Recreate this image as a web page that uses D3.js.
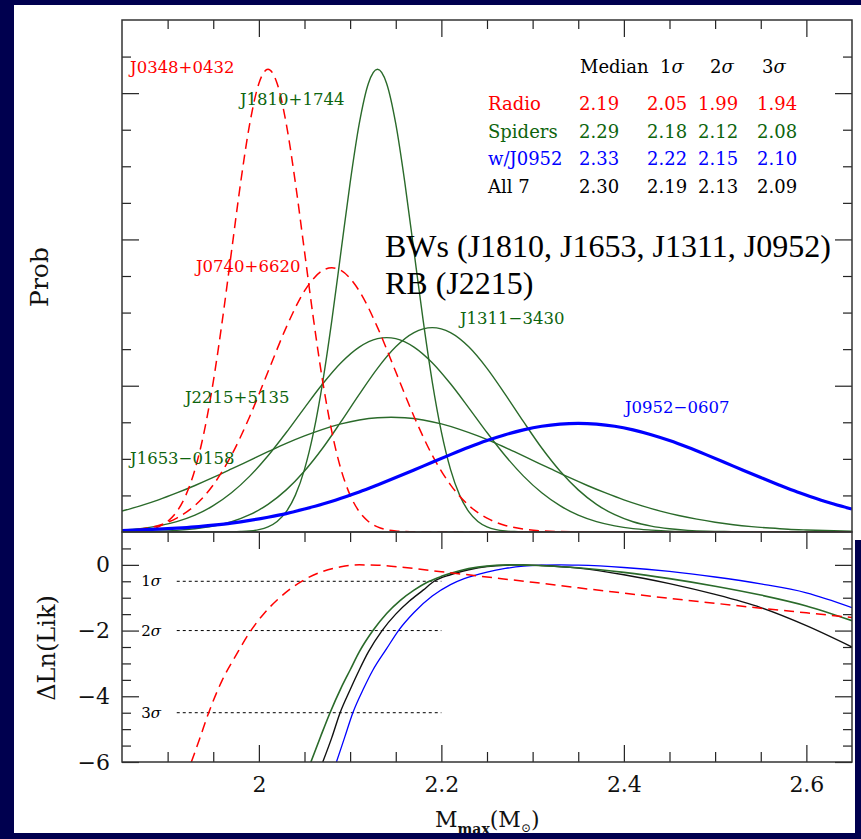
<!DOCTYPE html>
<html>
<head>
<meta charset="utf-8">
<script src="https://cdn.jsdelivr.net/npm/d3@7"></script>
<style>
  html, body { margin: 0; padding: 0; background: #00004f; }
  svg { display: block; }
</style>
</head>
<body>
<svg id="chart" width="861" height="839"></svg>
<script>
// ---------------- data ----------------
// mass axis (solar masses)
const massMajorTicks = [2.0, 2.2, 2.4, 2.6];
const massMinorTicks = [1.9, 1.95, 2.05, 2.1, 2.15, 2.25, 2.3, 2.35, 2.45, 2.5, 2.55];
const probMajorTicks = [0, 1, 2, 3];
const probMinorTicks = [0.25, 0.5, 0.75, 1.25, 1.5, 1.75, 2.25, 2.5, 2.75, 3.25];
const lnMajorTicks = [-6, -4, -2, 0];
const lnMinorTicks = [-5.5, -5, -4.5, -3.5, -3, -2.5, -1.5, -1, -0.5, 0.5];

// per-pulsar mass probability curves: [mass, prob]
const j0348 = [[1.85,0.001],[1.86,0.003],[1.87,0.007],[1.88,0.016],[1.89,0.035],[1.90,0.072],[1.91,0.139],[1.92,0.252],[1.93,0.428],[1.94,0.684],[1.95,1.027],[1.96,1.448],[1.97,1.918],[1.98,2.387],[1.99,2.791],[2.00,3.066],[2.01,3.163],[2.02,3.066],[2.03,2.791],[2.04,2.387],[2.05,1.918],[2.06,1.448],[2.07,1.027],[2.08,0.684],[2.09,0.428],[2.10,0.252],[2.11,0.139],[2.12,0.072],[2.13,0.035],[2.14,0.016],[2.15,0.007],[2.16,0.003],[2.17,0.001],[2.20,0],[2.65,0]];
const j0740 = [[1.85,0.008],[1.87,0.020],[1.89,0.045],[1.91,0.095],[1.93,0.182],[1.95,0.322],[1.97,0.525],[1.99,0.790],[2.01,1.095],[2.03,1.399],[2.05,1.648],[2.07,1.788],[2.08,1.806],[2.09,1.788],[2.11,1.648],[2.13,1.399],[2.15,1.095],[2.17,0.790],[2.19,0.525],[2.21,0.322],[2.23,0.182],[2.25,0.095],[2.27,0.045],[2.29,0.020],[2.31,0.008],[2.33,0.003],[2.35,0.001],[2.40,0],[2.65,0]];
const j1810 = [[1.85,0],[1.96,0],[1.97,0.001],[1.98,0.003],[1.99,0.007],[2.00,0.016],[2.01,0.035],[2.02,0.072],[2.03,0.139],[2.04,0.252],[2.05,0.428],[2.06,0.684],[2.07,1.027],[2.08,1.448],[2.09,1.918],[2.10,2.387],[2.11,2.791],[2.12,3.066],[2.13,3.163],[2.14,3.066],[2.15,2.791],[2.16,2.387],[2.17,1.918],[2.18,1.448],[2.19,1.027],[2.20,0.684],[2.21,0.428],[2.22,0.252],[2.23,0.139],[2.24,0.072],[2.25,0.035],[2.26,0.016],[2.27,0.007],[2.28,0.003],[2.29,0.001],[2.30,0],[2.65,0]];
const j1311 = [[1.85,0.001],[1.87,0.003],[1.89,0.005],[1.91,0.011],[1.93,0.022],[1.95,0.040],[1.97,0.070],[1.99,0.118],[2.01,0.189],[2.03,0.288],[2.05,0.417],[2.07,0.574],[2.09,0.754],[2.11,0.941],[2.13,1.119],[2.15,1.266],[2.17,1.363],[2.19,1.397],[2.21,1.363],[2.23,1.266],[2.25,1.119],[2.27,0.941],[2.29,0.754],[2.31,0.574],[2.33,0.417],[2.35,0.288],[2.37,0.189],[2.39,0.118],[2.41,0.070],[2.43,0.040],[2.45,0.022],[2.47,0.011],[2.49,0.005],[2.51,0.003],[2.53,0.001],[2.56,0],[2.65,0]];
const j2215 = [[1.85,0.013],[1.87,0.023],[1.89,0.042],[1.91,0.071],[1.93,0.115],[1.95,0.180],[1.97,0.268],[1.99,0.382],[2.01,0.521],[2.03,0.680],[2.05,0.849],[2.07,1.013],[2.09,1.157],[2.11,1.264],[2.13,1.322],[2.14,1.329],[2.15,1.322],[2.17,1.264],[2.19,1.157],[2.21,1.013],[2.23,0.849],[2.25,0.680],[2.27,0.521],[2.29,0.382],[2.31,0.268],[2.33,0.180],[2.35,0.115],[2.37,0.071],[2.39,0.042],[2.41,0.023],[2.43,0.013],[2.45,0.006],[2.47,0.003],[2.49,0.001],[2.53,0],[2.65,0]];
const j1653 = [[1.85,0.143],[1.87,0.179],[1.89,0.220],[1.91,0.267],[1.93,0.318],[1.95,0.373],[1.97,0.431],[1.99,0.490],[2.01,0.549],[2.03,0.606],[2.05,0.657],[2.07,0.702],[2.09,0.739],[2.11,0.766],[2.13,0.781],[2.145,0.784],[2.16,0.781],[2.18,0.766],[2.20,0.739],[2.22,0.702],[2.24,0.657],[2.26,0.606],[2.28,0.549],[2.30,0.490],[2.32,0.431],[2.34,0.373],[2.36,0.318],[2.38,0.267],[2.40,0.220],[2.42,0.179],[2.44,0.143],[2.46,0.113],[2.48,0.088],[2.50,0.067],[2.52,0.050],[2.54,0.037],[2.56,0.027],[2.58,0.019],[2.60,0.014],[2.62,0.010],[2.65,0.005]];
const j0952 = [[1.85,0.010],[1.87,0.014],[1.89,0.019],[1.91,0.026],[1.93,0.035],[1.95,0.047],[1.97,0.061],[1.99,0.079],[2.01,0.101],[2.03,0.126],[2.05,0.157],[2.07,0.191],[2.09,0.231],[2.11,0.274],[2.13,0.322],[2.15,0.372],[2.17,0.424],[2.19,0.477],[2.21,0.529],[2.23,0.579],[2.25,0.625],[2.27,0.665],[2.29,0.698],[2.31,0.723],[2.33,0.738],[2.35,0.743],[2.37,0.738],[2.39,0.723],[2.41,0.698],[2.43,0.665],[2.45,0.625],[2.47,0.579],[2.49,0.529],[2.51,0.477],[2.53,0.424],[2.55,0.372],[2.57,0.322],[2.59,0.274],[2.61,0.231],[2.63,0.191],[2.65,0.157]];

// combined likelihood profiles: [Mmax, ΔLn(Lik)]
const lnRadio = [[1.926,-6.0],[1.935,-5.3],[1.945,-4.5],[1.96,-3.5],[1.975,-2.75],[1.99,-2.05],[2.005,-1.5],[2.02,-1.07],[2.035,-0.72],[2.05,-0.45],[2.07,-0.2],[2.09,-0.06],[2.11,0.0],[2.13,-0.01],[2.16,-0.08],[2.2,-0.21],[2.25,-0.37],[2.3,-0.53],[2.35,-0.7],[2.4,-0.86],[2.45,-1.02],[2.5,-1.17],[2.55,-1.32],[2.6,-1.46],[2.65,-1.6]];
const lnSpiders = [[2.057,-6.0],[2.068,-5.2],[2.078,-4.5],[2.09,-3.75],[2.1,-3.2],[2.11,-2.65],[2.125,-2.0],[2.14,-1.48],[2.155,-1.08],[2.17,-0.77],[2.185,-0.52],[2.2,-0.35],[2.22,-0.18],[2.24,-0.07],[2.26,-0.015],[2.28,0.0],[2.3,-0.01],[2.35,-0.09],[2.4,-0.23],[2.45,-0.42],[2.5,-0.65],[2.55,-0.92],[2.6,-1.25],[2.65,-1.7]];
const lnAll7 = [[2.07,-6.0],[2.08,-5.25],[2.089,-4.5],[2.1,-3.8],[2.11,-3.2],[2.12,-2.65],[2.135,-2.0],[2.15,-1.5],[2.165,-1.1],[2.18,-0.77],[2.192,-0.5],[2.21,-0.3],[2.23,-0.15],[2.25,-0.05],[2.27,-0.01],[2.29,0.0],[2.31,-0.02],[2.35,-0.1],[2.4,-0.3],[2.45,-0.57],[2.5,-0.9],[2.55,-1.3],[2.6,-1.85],[2.65,-2.5]];
const lnWithJ0952 = [[2.085,-6.0],[2.094,-5.25],[2.103,-4.5],[2.115,-3.75],[2.125,-3.2],[2.14,-2.55],[2.153,-2.0],[2.17,-1.45],[2.19,-0.95],[2.21,-0.6],[2.225,-0.42],[2.25,-0.22],[2.27,-0.11],[2.29,-0.04],[2.31,-0.01],[2.33,0.0],[2.35,-0.01],[2.4,-0.08],[2.45,-0.2],[2.5,-0.37],[2.55,-0.58],[2.6,-0.85],[2.65,-1.3]];

// confidence levels in ΔLn(Lik)
const sigmaLevels = [-0.5, -2, -4.5];
const sigmaNames = ["1", "2", "3"];

// summary table
const tableRows = ["Radio", "Spiders", "w/J0952", "All 7"];
const tableMedian = ["2.19", "2.29", "2.33", "2.30"];
const table1s = ["2.05", "2.18", "2.22", "2.19"];
const table2s = ["1.99", "2.12", "2.15", "2.13"];
const table3s = ["1.94", "2.08", "2.10", "2.09"];

// ---------------- drawing ----------------
const RED = "#ff0000", GREEN = "#2a6a2a", GREEN_TXT = "#0d640d", BLUE = "#0000ff";
const SERIF = "'DejaVu Serif', serif";
const svg = d3.select("#chart");

// page background and white sheet
svg.append("rect").attr("width", 861).attr("height", 839).attr("fill", "#00004f");
svg.append("rect").attr("x", 14).attr("y", 5).attr("width", 847).attr("height", 828).attr("fill", "#fff");

const x = d3.scaleLinear().domain([1.85, 2.65]).range([122, 852]);
const yTop = d3.scaleLinear().domain([0, 3.5]).range([532, 20]);
const yBot = d3.scaleLinear().domain([-6, 1]).range([762, 532]);

const defs = svg.append("defs");
defs.append("clipPath").attr("id", "clipTop").append("rect")
  .attr("x", 122).attr("y", 20).attr("width", 730).attr("height", 512);
defs.append("clipPath").attr("id", "clipBot").append("rect")
  .attr("x", 122).attr("y", 532).attr("width", 730).attr("height", 230);

function styleAxis(g) {
  g.select(".domain").remove();
  g.selectAll(".tick line").attr("stroke", "#222").attr("stroke-width", 1.2);
  g.attr("font-family", SERIF).attr("font-size", 22);
  g.selectAll(".tick text").attr("fill", "#111");
}
function ticks(axisFn, scale, values, len, pos, withLabels, fmt) {
  const a = axisFn(scale).tickValues(values).tickSize(-len).tickPadding(withLabels ? 14 : 0);
  a.tickFormat(withLabels ? fmt : () => "");
  const g = svg.append("g").attr("transform", pos).call(a);
  styleAxis(g);
  return g;
}

// --- top panel axes ---
ticks(d3.axisTop, x, massMajorTicks, 17, "translate(0,20)", false);
ticks(d3.axisTop, x, massMinorTicks, 9, "translate(0,20)", false);
ticks(d3.axisLeft, yTop, probMajorTicks.slice(1), 17, "translate(122,0)", false);
ticks(d3.axisLeft, yTop, probMinorTicks, 9, "translate(122,0)", false);
ticks(d3.axisRight, yTop, probMajorTicks.slice(1), 17, "translate(852,0)", false);
ticks(d3.axisRight, yTop, probMinorTicks, 9, "translate(852,0)", false);

// --- bottom panel axes ---
ticks(d3.axisTop, x, massMajorTicks, 17, "translate(0,532)", false);
ticks(d3.axisTop, x, massMinorTicks, 10, "translate(0,532)", false);
ticks(d3.axisBottom, x, massMajorTicks, 17, "translate(0,762)", true, d3.format("~g"));
ticks(d3.axisBottom, x, massMinorTicks, 10, "translate(0,762)", false);
const yl = ticks(d3.axisLeft, yBot, lnMajorTicks, 17, "translate(122,0)", true, d3.format("d"));
yl.selectAll(".tick text").attr("dx", 2);
ticks(d3.axisLeft, yBot, lnMinorTicks, 9, "translate(122,0)", false);
ticks(d3.axisRight, yBot, lnMajorTicks, 17, "translate(852,0)", false);
ticks(d3.axisRight, yBot, lnMinorTicks, 9, "translate(852,0)", false);

// --- curves, top panel ---
const lineTop = d3.line().x(d => x(d[0])).y(d => yTop(d[1])).curve(d3.curveMonotoneX);
const topG = svg.append("g").attr("clip-path", "url(#clipTop)").attr("fill", "none");
[j1653, j2215, j1311, j1810].forEach(s =>
  topG.append("path").attr("d", lineTop(s)).attr("stroke", GREEN).attr("stroke-width", 1.4));
[j0740, j0348].forEach(s =>
  topG.append("path").attr("d", lineTop(s)).attr("stroke", RED).attr("stroke-width", 1.5)
    .attr("stroke-dasharray", "10,6"));
topG.append("path").attr("d", lineTop(j0952)).attr("stroke", BLUE).attr("stroke-width", 3.2);

// --- curves, bottom panel ---
const lineBot = d3.line().x(d => x(d[0])).y(d => yBot(d[1])).curve(d3.curveMonotoneX);
const botG = svg.append("g").attr("clip-path", "url(#clipBot)").attr("fill", "none");
sigmaLevels.forEach(v =>
  botG.append("line").attr("x1", x(1.91)).attr("x2", x(2.2)).attr("y1", yBot(v)).attr("y2", yBot(v))
    .attr("stroke", "#000").attr("stroke-width", 1).attr("stroke-dasharray", "3,3"));
botG.append("path").attr("d", lineBot(lnWithJ0952)).attr("stroke", BLUE).attr("stroke-width", 1.3);
botG.append("path").attr("d", lineBot(lnAll7)).attr("stroke", "#111").attr("stroke-width", 1.4);
botG.append("path").attr("d", lineBot(lnSpiders)).attr("stroke", GREEN).attr("stroke-width", 1.6);
botG.append("path").attr("d", lineBot(lnRadio)).attr("stroke", RED).attr("stroke-width", 1.5)
  .attr("stroke-dasharray", "10,6");

// sigma labels
sigmaLevels.forEach((v, i) => {
  const t = svg.append("text").attr("x", x(1.871)).attr("y", yBot(v) + 5)
    .attr("font-family", SERIF).attr("font-size", 15).attr("fill", "#000");
  t.append("tspan").text(sigmaNames[i]);
  t.append("tspan").attr("font-style", "italic").text("σ");
});

// --- frames ---
svg.append("rect").attr("x", 122).attr("y", 20).attr("width", 730).attr("height", 512)
  .attr("fill", "none").attr("stroke", "#333").attr("stroke-width", 1.5);
svg.append("rect").attr("x", 122).attr("y", 532).attr("width", 730).attr("height", 230)
  .attr("fill", "none").attr("stroke", "#333").attr("stroke-width", 1.5);

// --- curve labels ---
function label(txt, m, p, color) {
  svg.append("text").attr("x", x(m)).attr("y", yTop(p)).text(txt)
    .attr("font-family", SERIF).attr("font-size", 16.5).attr("fill", color);
}
label("J0348+0432", 1.8588, 3.138, RED);
label("J1810+1744", 1.9793, 2.919, GREEN_TXT);
label("J0740+6620", 1.9311, 1.777, RED);
label("J1311\u22123430", 2.2204, 1.422, GREEN_TXT);
label("J2215+5135", 1.919, 0.882, GREEN_TXT);
label("J1653\u22120158", 1.8588, 0.465, GREEN_TXT);
label("J0952\u22120607", 2.4012, 0.813, BLUE);

// --- group note ---
const note = svg.append("text").attr("font-family", "'Liberation Serif', 'Times New Roman', serif")
  .attr("font-size", 32).attr("fill", "#000");
note.append("tspan").attr("x", 385).attr("y", 257).text("BWs (J1810, J1653, J1311, J0952)");
note.append("tspan").attr("x", 385).attr("y", 294).text("RB (J2215)");

// --- summary table ---
const tbl = svg.append("g").attr("font-family", SERIF).attr("font-size", 18);
const head = tbl.append("text").attr("y", 73).attr("fill", "#000");
head.append("tspan").attr("x", 580).text("Median");
[["1", 660], ["2", 710], ["3", 762]].forEach(([n, px]) => {
  head.append("tspan").attr("x", px).text(n);
  head.append("tspan").attr("font-style", "italic").text("σ");
});
const rowColors = [RED, GREEN_TXT, BLUE, "#000"];
const rowY = [110, 137.5, 165, 192.5];
tableRows.forEach((r, i) => {
  const t = tbl.append("text").attr("y", rowY[i]).attr("fill", rowColors[i]);
  t.append("tspan").attr("x", 488).text(r);
  t.append("tspan").attr("x", 579).text(tableMedian[i]);
  t.append("tspan").attr("x", 647).text(table1s[i]);
  t.append("tspan").attr("x", 698).text(table2s[i]);
  t.append("tspan").attr("x", 757).text(table3s[i]);
});

// --- axis titles ---
svg.append("text").attr("transform", "translate(48,277) rotate(-90)").attr("text-anchor", "middle")
  .attr("font-family", SERIF).attr("font-size", 25).attr("fill", "#111").text("Prob");
svg.append("text").attr("transform", "translate(55,648) rotate(-90)").attr("text-anchor", "middle")
  .attr("font-family", SERIF).attr("font-size", 24).attr("fill", "#111").text("\u0394Ln(Lik)");
const xt = svg.append("text").attr("x", 435).attr("y", 827)
  .attr("font-family", SERIF).attr("font-size", 22).attr("fill", "#111");
xt.append("tspan").text("M");
xt.append("tspan").attr("font-size", 14).attr("font-weight", "bold").attr("dy", 7).text("max");
xt.append("tspan").attr("dy", -7).text("(M");
xt.append("tspan").attr("font-size", 12).attr("dy", 5).text("\u2299");
xt.append("tspan").attr("dy", -5).text(")");

// sheet edges drawn last so the title sits under the page border
svg.append("rect").attr("x", 0).attr("y", 833).attr("width", 861).attr("height", 6).attr("fill", "#00004f");
svg.append("rect").attr("x", 855).attr("y", 540).attr("width", 6).attr("height", 299).attr("fill", "#00004f");
</script>
</body>
</html>
